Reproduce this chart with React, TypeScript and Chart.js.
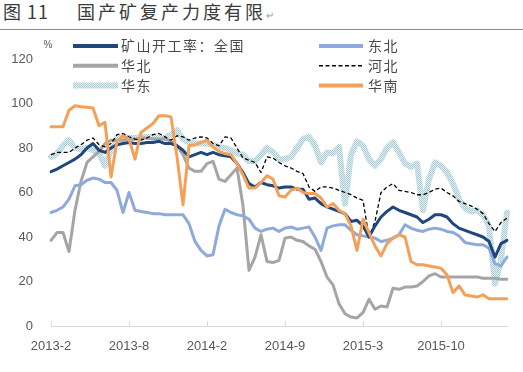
import React, { useEffect, useRef } from 'react';
import { Chart, registerables } from 'chart.js';

Chart.register(...registerables);

const tickLabels = ['2013-2', '2013-8', '2014-2', '2014-9', '2015-3', '2015-10'];
const tickEvery = 13;
const seriesNames = ['矿山开工率：全国', '东北', '华北', '河北', '华东', '华南'];

const national = [
  69.4, 70.5, 72, 73.5, 75, 77, 80, 82, 79, 78,
  80, 81.5, 82, 82.5, 82, 82, 82.5, 82.5, 83, 82,
  82, 81, 79, 76, 77, 78, 77, 78, 77, 76.5,
  76, 73, 69, 64, 62.5, 64.5, 63.5, 63, 62, 62.5,
  62.5, 61.5, 61.5, 57, 57.5, 55, 53.5, 52.5, 51.5, 50.5,
  47, 47.5, 45, 40, 45, 49, 51.5, 53.5, 52, 51,
  50, 49, 46.5, 48, 50, 50, 49, 46, 44, 43,
  42, 41, 40, 38, 31, 37, 38.5,
];
const northeast = [
  51, 52, 53.5, 57, 63, 63.5, 65.5, 66.5, 66, 64.5,
  64.5, 61, 51, 60, 52, 51.5, 51, 50.5, 50.5, 50,
  50, 50, 50, 46, 38, 34, 31.5, 32, 45, 52.5,
  51, 50, 49.5, 48, 44, 42.5, 43.5, 44, 42.5, 44,
  44.5, 43.5, 44, 44.5, 40, 34, 44, 45, 45.5, 45.5,
  43, 41, 40.5, 40, 39.5, 38, 38.5, 39.5, 41, 45.5,
  44, 43, 42.5, 43.5, 44, 43.5, 42.5, 42, 40.5, 37.5,
  37, 36.5, 36.5, 35, 28, 27, 31,
];
const northChina = [
  38.5, 42, 42, 33.5, 52, 65, 73.5, 76, 78.5, 82,
  83.5, 83.5, 83.5, 84, 84, 84.5, 84.5, 84, 84, 84,
  83, 81, 77, 71, 69.5, 69.5, 73, 74, 66, 65,
  68, 71, 54, 25, 31, 41, 29, 28.5, 29.5, 39.5,
  40, 38.5, 38, 36, 34.5, 29, 22, 18.5, 10, 5.5,
  4, 3.6, 6, 12, 7.5, 9, 8.5, 17, 16.5, 17.5,
  17.5, 18, 20, 22.5, 23.5, 22, 22, 22, 22, 22,
  22, 22, 21.5, 21.5, 21.5, 21, 21,
];
const hebei = [
  77, 78, 78, 78, 80, 81.5, 83.5, 84.5, 81.5, 80.5,
  82, 86, 86.5, 85, 84, 83.5, 84.5, 86, 86.5, 85,
  83.5, 85.5, 85, 83.5, 84.5, 85, 84.5, 82, 81, 85,
  84.5, 80, 75.5, 74.5, 73.5, 69, 76, 75.5, 73.5, 72,
  71, 69.5, 68.5, 62.5, 60.5, 62.5, 62.5, 62, 61, 60,
  59, 57.5, 56.5, 40, 47, 60, 62.5, 64, 61, 60.5,
  60, 59, 59, 60, 61.5, 62, 60, 58.5, 56, 55,
  54, 52.5, 50.5, 46, 42.5, 46.5, 48.5,
];
const eastChina = [
  76, 77.5, 81, 83.5, 80, 79.5, 80, 79, 77.5, 72,
  79, 84.5, 85, 84.5, 84.5, 85, 85, 85, 84.5, 84.5,
  86, 88, 84, 82.5, 82, 82, 82, 81.5, 80.5, 80,
  79, 77.5, 77, 74, 74, 77, 80, 78, 75, 75,
  76, 80, 84, 85, 81, 73.5, 78, 77.5, 80.5, 55,
  77, 83, 81, 75, 72, 75, 80, 82.5, 78, 73,
  71.5, 73, 52, 66, 73.5, 72, 69, 64, 57, 53,
  51.5, 52, 50, 45, 19, 30, 51,
];
const southChina = [
  89.5, 89.5, 89.5, 97, 99, 98.5, 98.3, 98, 90, 91.5,
  67, 83, 85.5, 84, 75, 87, 89, 91, 94.5, 94.5,
  94, 76, 54.5, 81, 81.5, 82.5, 83.5, 80.5, 78.5, 77.5,
  77, 73, 68, 62, 62, 64.5, 67.5, 66, 58.5, 58,
  61, 62, 60, 59.5, 59.5, 57.5, 53.5, 55, 52, 50.5,
  45, 34, 48, 42, 36, 31.5, 37, 39.5, 41, 40,
  29, 27.5, 27.5, 27, 26.5, 26, 23, 15, 18, 14,
  13.5, 13, 14, 12.2, 12.2, 12.2, 12.2,
];

const yTicks = [0, 20, 40, 60, 80, 100, 120];

const categories = national.map((_, i) =>
  i % tickEvery === 0 ? tickLabels[i / tickEvery] ?? '' : ''
);

function makePattern(): CanvasPattern | string {
  const c = document.createElement('canvas');
  c.width = 2;
  c.height = 2;
  const g = c.getContext('2d');
  if (!g) return '#c2dde3';
  g.fillStyle = '#e4f0f3';
  g.fillRect(0, 0, 2, 2);
  g.fillStyle = '#a6cbd4';
  g.fillRect(0, 0, 1, 1);
  g.fillRect(1, 1, 1, 1);
  const p = g.createPattern(c, 'repeat');
  return p || '#c2dde3';
}

const legendPlugin = {
  id: 'customLegend',
  afterDraw(chart: any) {
    const ctx = chart.ctx as CanvasRenderingContext2D;
    const cols = [
      { x0: 73, x1: 118, tx: 121 },
      { x0: 319, x1: 363, tx: 368 },
    ];
    chart.data.datasets.forEach((ds: any, i: number) => {
      const c = cols[i % 2];
      const y = 46 + Math.floor(i / 2) * 19.7;
      ctx.save();
      ctx.beginPath();
      ctx.strokeStyle = ds.borderColor;
      ctx.lineWidth = ds.legendWidth ?? ds.borderWidth;
      ctx.setLineDash(ds.borderDash || []);
      ctx.moveTo(c.x0, y);
      ctx.lineTo(c.x1, y);
      ctx.stroke();
      ctx.setLineDash([]);
      ctx.font = '14px "Noto Sans CJK SC"';
      (ctx as any).letterSpacing = '1.5px';
      ctx.fillStyle = '#4a4a4a';
      ctx.textBaseline = 'middle';
      ctx.textAlign = 'left';
      ctx.fillText(ds.label, c.tx, y);
      ctx.restore();
    });
    const area = chart.chartArea;
    ctx.save();
    ctx.font = '10px "Liberation Sans"';
    ctx.fillStyle = '#595959';
    ctx.textAlign = 'center';
    ctx.textBaseline = 'middle';
    ctx.fillText('%', area.left - 3, area.top - 14);
    ctx.restore();
  },
  beforeDatasetsDraw(chart: any) {
    const ctx = chart.ctx as CanvasRenderingContext2D;
    const xs = chart.scales.x;
    const bottom = chart.chartArea.bottom;
    ctx.save();
    ctx.strokeStyle = '#d9d9d9';
    ctx.lineWidth = 1;
    ctx.beginPath();
    xs.ticks.forEach((_: any, i: number) => {
      if (!categories[i]) return;
      const px = Math.round(xs.getPixelForTick(i)) + 0.5;
      ctx.moveTo(px, bottom);
      ctx.lineTo(px, bottom - 5);
    });
    ctx.stroke();
    ctx.restore();
  },
};

export default function App() {
  const ref = useRef<HTMLCanvasElement | null>(null);

  useEffect(() => {
    if (!ref.current) return;
    const pattern = makePattern();
    const common = { pointRadius: 0, tension: 0, borderJoinStyle: 'round' as const, borderCapStyle: 'round' as const, fill: false };
    const chart = new Chart(ref.current, {
      type: 'line',
      data: {
        labels: categories,
        datasets: [
          { ...common, label: seriesNames[0], data: national, borderColor: '#1f477d', borderWidth: 3, legendWidth: 4, order: 2 } as any,
          { ...common, label: seriesNames[1], data: northeast, borderColor: '#8eaadc', borderWidth: 3, legendWidth: 4, order: 4 } as any,
          { ...common, label: seriesNames[2], data: northChina, borderColor: '#a5a5a5', borderWidth: 3, legendWidth: 4, order: 5 } as any,
          { ...common, label: seriesNames[3], data: hebei, borderColor: '#000000', borderWidth: 1.3, borderDash: [4, 2.5], borderCapStyle: 'butt', legendWidth: 1.5, order: 3 } as any,
          { ...common, label: seriesNames[4], data: eastChina, borderColor: pattern, borderWidth: 6, legendWidth: 6, order: 6 } as any,
          { ...common, label: seriesNames[5], data: southChina, borderColor: '#f4a058', borderWidth: 3, legendWidth: 4, order: 1 } as any,
        ],
      },
      options: {
        animation: false,
        responsive: false,
        devicePixelRatio: 1,
        events: [],
        layout: { padding: { left: 8, right: 16, top: 59, bottom: 0 } },
        plugins: {
          legend: { display: false },
          title: { display: false },
          tooltip: { enabled: false },
        },
        scales: {
          x: {
            type: 'category',
            offset: false,
            grid: { display: true, drawOnChartArea: false, drawTicks: false, color: 'rgba(0,0,0,0)' },
            border: { display: true, color: '#d9d9d9', width: 1 },
            ticks: {
              autoSkip: false,
              maxRotation: 0,
              minRotation: 0,
              padding: 13,
              color: '#595959',
              font: { family: '"Liberation Sans"', size: 13 },
              callback: (_v: any, i: number) => categories[i],
            },
            afterFit: (s: any) => {
              s.height = 46;
            },
          },
          y: {
            min: yTicks[0],
            max: yTicks[yTicks.length - 1],
            grid: { display: false, drawTicks: false },
            border: { display: false },
            afterBuildTicks: (s: any) => {
              s.ticks = yTicks.map((v) => ({ value: v }));
            },
            ticks: {
              padding: 18,
              color: '#595959',
              font: { family: '"Liberation Sans"', size: 13 },
            },
            afterFit: (s: any) => {
              s.width = 43;
            },
          },
        },
      },
      plugins: [legendPlugin],
    });
    return () => chart.destroy();
  }, []);

  return (
    <div style={{ position: 'fixed', left: 0, top: 0, width: 523, height: 372, background: '#ffffff', overflow: 'hidden' }}>
      <div
        style={{
          position: 'absolute', left: 3, top: 1, fontFamily: '"Noto Sans CJK SC"', fontSize: 18,
          lineHeight: '20px', color: '#3a3a3a', letterSpacing: 1, whiteSpace: 'nowrap',
        }}
      >
        图 11
      </div>
      <div
        style={{
          position: 'absolute', left: 77, top: 1, fontFamily: '"Noto Sans CJK SC"', fontSize: 18,
          lineHeight: '20px', color: '#3a3a3a', letterSpacing: 3, whiteSpace: 'nowrap',
        }}
      >
        国产矿复产力度有限<span style={{ fontSize: 10, color: '#9a9a9a', letterSpacing: 0 }}>↵</span>
      </div>
      <div style={{ position: 'absolute', left: 0, top: 29, width: 523, height: 1, background: '#8a8a8a' }} />
      <canvas ref={ref} width={523} height={372} style={{ position: 'absolute', left: 0, top: 0, width: 523, height: 372 }} />
    </div>
  );
}
